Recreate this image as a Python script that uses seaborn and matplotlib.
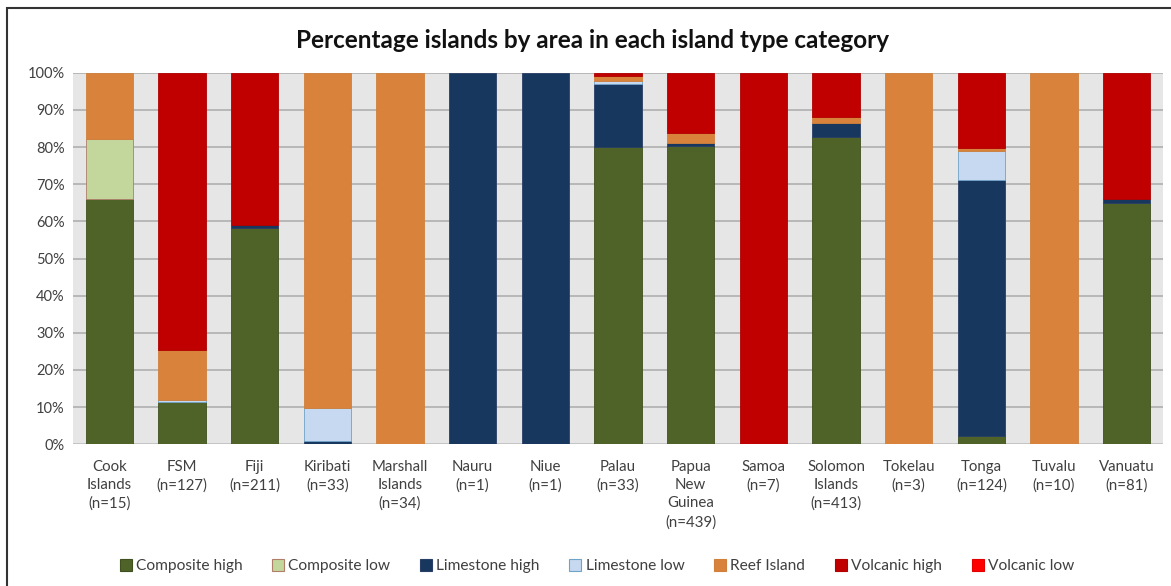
import matplotlib
matplotlib.use("Agg")
import matplotlib.pyplot as plt
import seaborn as sns
import pandas as pd
import numpy as np
from matplotlib.patches import Rectangle
from matplotlib.lines import Line2D

categories = ["Cook\nIslands\n(n=15)", "FSM\n(n=127)", "Fiji\n(n=211)", "Kiribati\n(n=33)",
              "Marshall\nIslands\n(n=34)", "Nauru\n(n=1)", "Niue\n(n=1)", "Palau\n(n=33)",
              "Papua\nNew\nGuinea\n(n=439)", "Samoa\n(n=7)", "Solomon\nIslands\n(n=413)",
              "Tokelau\n(n=3)", "Tonga\n(n=124)", "Tuvalu\n(n=10)", "Vanuatu\n(n=81)"]

series_names = ["Composite high", "Composite low", "Limestone high", "Limestone low",
                "Reef Island", "Volcanic high", "Volcanic low"]

composite_high = [66.1, 11.4, 58.1, 0.0, 0.0, 0.0, 0.0, 79.9, 80.3, 0.0, 82.6, 0.0, 2.2, 0.0, 65.0]
composite_low  = [16.1, 0.0, 0.0, 0.0, 0.0, 0.0, 0.0, 0.0, 0.0, 0.0, 0.0, 0.0, 0.0, 0.0, 0.0]
limestone_high = [0.0, 0.0, 1.0, 0.9, 0.0, 100.0, 100.0, 17.0, 0.9, 0.0, 3.9, 0.0, 68.8, 0.0, 1.1]
limestone_low  = [0.0, 0.4, 0.0, 8.8, 0.0, 0.0, 0.0, 1.0, 0.0, 0.0, 0.0, 0.0, 8.0, 0.0, 0.0]
reef_island    = [17.8, 13.5, 0.0, 90.3, 100.0, 0.0, 0.0, 1.3, 2.5, 0.0, 1.7, 100.0, 0.8, 100.0, 0.0]
volcanic_high  = [0.0, 74.7, 40.9, 0.0, 0.0, 0.0, 0.0, 0.8, 16.3, 100.0, 11.8, 0.0, 20.2, 0.0, 33.9]
volcanic_low   = [0.0, 0.0, 0.0, 0.0, 0.0, 0.0, 0.0, 0.0, 0.0, 0.0, 0.0, 0.0, 0.0, 0.0, 0.0]

yticks = [0, 10, 20, 30, 40, 50, 60, 70, 80, 90, 100]
ytick_labels = ["0%", "10%", "20%", "30%", "40%", "50%", "60%", "70%", "80%", "90%", "100%"]

colors = ["#4F6228", "#C3D69B", "#17375E", "#C6D9F1", "#D9823C", "#C00000", "#FF0000"]
edges = ["#3f5020", "#b07f6a", "#2a3f66", "#6fa3c8", "#d0803a", "#b00000", "#e00000"]

sns.set_theme(style="white")
plt.rcParams['font.family'] = ['Lato', 'DejaVu Sans']

fig = plt.figure(figsize=(11.71, 5.86), dpi=100)
W, H = 1171, 586
ax = fig.add_axes([73 / W, 1 - 444.3 / H, (1163 - 73) / W, (444.3 - 72.7) / H])
ax.set_facecolor("#E6E6E6")

data = [composite_high, composite_low, limestone_high, limestone_low,
        reef_island, volcanic_high, volcanic_low]
bottom = np.zeros(len(categories))
for name, vals, c, ec in zip(series_names, data, colors, edges):
    df = pd.DataFrame({"cat": categories, "val": vals})
    n_before = len(ax.patches)
    sns.barplot(data=df, x="cat", y="val", ax=ax, color=c, bottom=bottom.copy(),
                width=0.65, edgecolor=ec, linewidth=0.6, saturation=1, zorder=3,
                order=categories)
    for p in ax.patches[n_before:]:
        if p.get_height() == 0:
            p.set_visible(False)
    bottom += np.array(vals)

ax.set_xlim(-0.5, len(categories) - 0.5)
ax.set_ylim(0, 100)
ax.set_yticks(yticks)
ax.set_yticklabels(ytick_labels, fontsize=10.5, color="#404040")
ax.set_xticks(range(len(categories)))
ax.set_xticklabels(categories, fontsize=10.8, color="#404040", linespacing=1.4, va="top")
ax.tick_params(axis="x", length=0, pad=11)
ax.tick_params(axis="y", length=0, pad=6)
ax.set_xlabel("")
ax.set_ylabel("")
ax.yaxis.grid(True, color="#B4B4B4", linewidth=1.3, zorder=0)
ax.set_axisbelow(True)
for s in ax.spines.values():
    s.set_visible(False)
ax.axhline(0, color="#C8C8C8", linewidth=1.2, zorder=1)

fig.text(592 / W, 1 - 40 / H, "Percentage islands by area in each island type category",
         ha="center", va="center", fontsize=17.5, fontweight="bold", color="#111111")

handles = [Line2D([0], [0], marker="s", linestyle="none", markersize=8,
                  markerfacecolor=c, markeredgecolor=ec, markeredgewidth=0.8)
           for c, ec in zip(colors, edges)]
fig.legend(handles, series_names, loc="center", bbox_to_anchor=(596 / W, 1 - 566 / H),
           ncol=7, frameon=False, fontsize=11.2, handletextpad=0.15, columnspacing=1.8,
           handlelength=1.0, labelcolor="#404040")

# chart frame (top and left edges visible)
fig.patches.append(Rectangle((7 / W, -0.05), 1.2, 1 - 8 / H + 0.05, transform=fig.transFigure,
                             fill=False, edgecolor="#333333", linewidth=1.5))

fig.savefig("out.png", dpi=100, facecolor="white")
